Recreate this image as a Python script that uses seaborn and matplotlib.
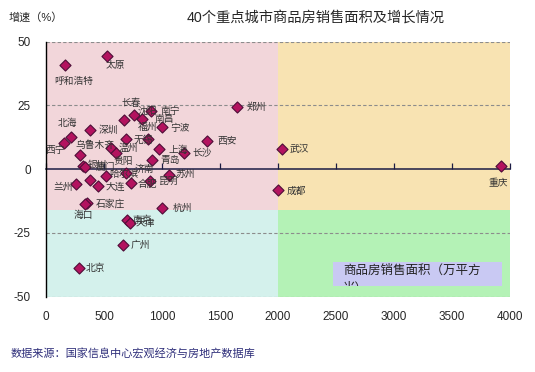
import matplotlib
matplotlib.use("Agg")
import matplotlib.pyplot as plt
import seaborn as sns
import pandas as pd
from matplotlib.patches import Rectangle
from matplotlib.transforms import Bbox, TransformedBbox

# 40 key cities: sales area (10k m2) and growth (%)
cities = ["呼和浩特", "太原", "郑州", "长春", "沈阳", "南昌", "南宁", "宁波",
          "深圳", "北海", "西宁", "无锡", "福州", "西安", "乌鲁木齐", "温州",
          "贵阳", "上海", "长沙", "青岛", "银川", "厦门", "兰州", "", "大连",
          "哈尔滨", "济南", "合肥", "昆明", "苏州", "石家庄", "海口", "南京",
          "天津", "杭州", "广州", "北京", "武汉", "成都", "重庆"]
area = [164, 526, 1647, 672, 759, 828, 905, 1000,
        379, 216, 155, 690, 879, 1388, 293, 560,
        603, 974, 1190, 914, 319, 336, 259, 379, 448,
        517, 690, 733, 897, 1060, 353, 336, 698,
        724, 1000, 664, 284, 2034, 2000, 3922]
growth = [40.8, 44.3, 24.3, 19.2, 21.2, 19.6, 22.7, 16.5,
          15.3, 12.5, 10.2, 11.8, 11.8, 11.0, 5.5, 8.2,
          6.3, 7.8, 6.3, 3.5, 1.2, 0.8, -5.9, -4.3, -6.7,
          -2.7, -1.6, -5.5, -4.7, -2.4, -13.3, -13.7, -20.0,
          -21.2, -15.3, -29.8, -38.8, 7.8, -8.2, 1.2]

xticks = [0, 500, 1000, 1500, 2000, 2500, 3000, 3500, 4000]
yticks = [-50, -25, 0, 25, 50]
x_split = 2000
y_split = -16

# where each label sits relative to its marker (pixels)
label_offsets = {
    "呼和浩特": (9, -16), "太原": (8, -9), "郑州": (19, 0), "长春": (7, 17),
    "沈阳": (13, 4), "南昌": (22, 0), "南宁": (19, 0), "宁波": (18, -1),
    "深圳": (18, 0), "北海": (-4, 14), "西宁": (-9, -7), "无锡": (17, -1),
    "福州": (0, 12), "西安": (20, 0), "乌鲁木齐": (15, 10), "温州": (17, 0),
    "贵阳": (7, -8), "上海": (19, -1), "长沙": (18, 1), "青岛": (18, 0),
    "银川": (14, 1), "厦门": (20, 0), "兰州": (-13, -3), "大连": (17, -1),
    "哈尔滨": (18, 2), "济南": (18, 4), "合肥": (16, -1), "昆明": (19, 0),
    "苏州": (16, 1), "石家庄": (23, -1), "海口": (-2, -11), "南京": (15, 0),
    "天津": (15, 0), "杭州": (20, 0), "广州": (17, 0), "北京": (16, 0),
    "武汉": (17, 0), "成都": (18, -1), "重庆": (-3, -17),
}

df = pd.DataFrame({"city": cities, "area": area, "growth": growth})

sns.set_style("white")
plt.rcParams["font.family"] = ["Liberation Sans", "Noto Sans CJK SC"]
plt.rcParams["axes.unicode_minus"] = False

fig = plt.figure(figsize=(5.35, 3.72), dpi=100)
ax = fig.add_axes([0.086, 0.2024, 0.867, 0.6856])
ax.set_xlim(0, 4000)
ax.set_ylim(-50, 50)

# quadrant backgrounds
ax.fill_between([0, x_split], y_split, 50, color="#F2D6DA", lw=0, zorder=0)
ax.fill_between([x_split, 4000], y_split, 50, color="#F8E3B2", lw=0, zorder=0)
ax.fill_between([0, x_split], -50, y_split, color="#D4F1EC", lw=0, zorder=0)
ax.fill_between([x_split, 4000], -50, y_split, color="#B4F2B6", lw=0, zorder=0)

for y in yticks:
    if y != 0:
        ax.axhline(y, color="#8C8C8C", ls=(0, (3, 2)), lw=0.8, zorder=1)

# zero line with ticks pointing up
sec = ax.secondary_xaxis(0.5)
sec.set_xticks(xticks)
sec.tick_params(length=4, width=0.9, color="#1C1C44", labeltop=False, labelbottom=False)
for sp in sec.spines.values():
    sp.set_color("#1C1C44")
    sp.set_linewidth(1.1)

sns.scatterplot(data=df, x="area", y="growth", marker="D", s=32,
                color="#B3135F", edgecolor="#4E0E38", linewidth=0.8,
                ax=ax, zorder=4, legend=False)

for name, x, y in zip(cities, area, growth):
    if not name:
        continue
    ax.annotate(name, (x, y), xytext=label_offsets[name], textcoords="offset pixels",
                ha="center", va="center", fontsize=7, color="#333333", zorder=5)

ax.set_xticks(xticks)
ax.set_yticks(yticks)
ax.tick_params(axis="x", length=0, pad=10, labelsize=8.5)
ax.tick_params(axis="y", length=3, direction="out", pad=8, labelsize=8.5)
ax.set_xlabel("")
ax.set_ylabel("")
for side in ["top", "right", "bottom"]:
    ax.spines[side].set_visible(False)
ax.spines["left"].set_color("black")
ax.spines["left"].set_linewidth(1)

# legend-like box in the lower right, second line cut off by the box
box_x0, box_x1, box_y0, box_y1 = 2474, 3931, -45.9, -36.5
box = Rectangle((box_x0, box_y0), box_x1 - box_x0, box_y1 - box_y0,
                facecolor="#C9C9F3", edgecolor="none", zorder=2)
ax.add_patch(box)
t = ax.text(2560, -37.6, "商品房销售面积（万平方\n米）", fontsize=9, ha="left", va="top",
            color="#222222", zorder=3, linespacing=1.55)
t.set_clip_on(True)
t.set_clip_box(TransformedBbox(Bbox([[box_x0, box_y0], [box_x1, box_y1]]), ax.transData))

fig.text(0.59, 0.954, "40个重点城市商品房销售面积及增长情况", ha="center", va="center", fontsize=10.3)
fig.text(0.015, 0.954, "增速（%）", ha="left", va="center", fontsize=8)
fig.text(0.019, 0.051, "数据来源：国家信息中心宏观经济与房地产数据库", ha="left", va="center",
         fontsize=8, color="#2E2E7A")

fig.savefig("out.png", dpi=100)
